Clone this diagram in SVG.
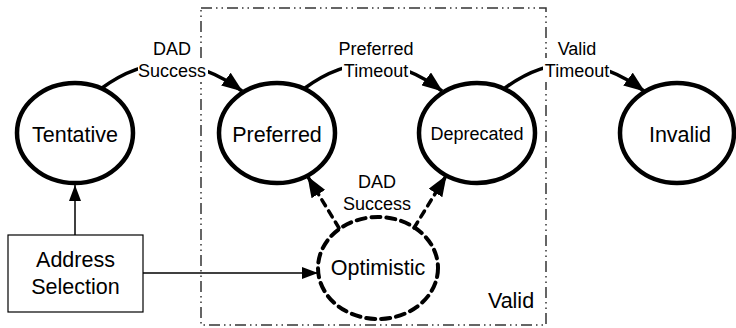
<svg xmlns="http://www.w3.org/2000/svg" width="736" height="328" viewBox="0 0 736 328">
<style>
text{font-family:"Liberation Sans",Arial,sans-serif;fill:#000;text-anchor:middle}
.state{fill:#fff;stroke:#000;stroke-width:4.5}
.opt{fill:none;stroke:#000;stroke-width:4;stroke-dasharray:9 6;stroke-linecap:round}
.big{font-size:21.5px}
.lbl{font-size:18px}
.arc{fill:none;stroke:#000;stroke-width:3.5}
.darc{fill:none;stroke:#000;stroke-width:3.5;stroke-dasharray:7 6;stroke-linecap:round}
.thin{fill:none;stroke:#000;stroke-width:1.5}
.bg{fill:#fff}
</style>
<defs>
<marker id="big" markerUnits="userSpaceOnUse" markerWidth="22" markerHeight="16" refX="20" refY="8" orient="auto">
<path d="M0,0 L21,8 L0,16 z" fill="#000"/>
</marker>
<marker id="small" markerUnits="userSpaceOnUse" markerWidth="18" markerHeight="14" refX="16" refY="6" orient="auto">
<path d="M0,0 L16,6 L0,12 z" fill="#000"/>
</marker>
</defs>
<g id="valid-region">
<rect x="201" y="8" width="345" height="317" fill="none" stroke="#333" stroke-width="1.5" stroke-dasharray="11 4 1.5 4 1.5 4"/>
<text class="big" x="511" y="308">Valid</text>
</g>
<g id="connectors">
<path class="arc" d="M102,88 Q170,38 242,91" marker-end="url(#big)"/>
<path class="arc" d="M305,88 Q373,38 442,91" marker-end="url(#big)"/>
<path class="arc" d="M505,88 Q573,38 644,91" marker-end="url(#big)"/>
<path class="darc" d="M339,228 L308,177" marker-end="url(#big)"/>
<path class="darc" d="M414,228 L446,176" marker-end="url(#big)"/>
<line class="thin" x1="75" y1="235" x2="75" y2="185" marker-end="url(#small)"/>
<line class="thin" x1="143" y1="273" x2="318" y2="273" marker-end="url(#small)"/>
<rect class="bg" x="155" y="33" width="34" height="26"/>
<rect class="bg" x="138" y="58" width="70" height="24"/>
<rect class="bg" x="342" y="58" width="68" height="22"/>
<rect class="bg" x="552" y="33" width="50" height="26"/>
<rect class="bg" x="543" y="58" width="67" height="24"/>
<text class="lbl" x="172" y="55">DAD</text>
<text class="lbl" x="172" y="77">Success</text>
<text class="lbl" x="376" y="55">Preferred</text>
<text class="lbl" x="376" y="77">Timeout</text>
<text class="lbl" x="577" y="55">Valid</text>
<text class="lbl" x="577" y="77">Timeout</text>
<text class="lbl" x="377" y="188">DAD</text>
<text class="lbl" x="377" y="210">Success</text>
</g>
<g id="tentative">
<ellipse class="state" cx="75" cy="133" rx="58" ry="50"/>
<text class="big" x="75" y="142">Tentative</text>
</g>
<g id="preferred">
<ellipse class="state" cx="277" cy="133" rx="58" ry="50"/>
<text class="big" x="277" y="142">Preferred</text>
</g>
<g id="deprecated">
<ellipse class="state" cx="477" cy="133" rx="58" ry="50"/>
<text x="477" y="140" style="font-size:18px">Deprecated</text>
</g>
<g id="invalid">
<ellipse class="state" cx="677" cy="133" rx="57" ry="50"/>
<text class="big" x="680" y="142">Invalid</text>
</g>
<g id="optimistic">
<ellipse class="opt" cx="378" cy="268" rx="60" ry="51"/>
<text class="big" x="378" y="275">Optimistic</text>
</g>
<g id="address-selection">
<rect x="8" y="235" width="135" height="77" fill="#fff" stroke="#000" stroke-width="1.2"/>
<text class="big" x="75.5" y="267">Address</text>
<text class="big" x="75.5" y="294">Selection</text>
</g>
</svg>
